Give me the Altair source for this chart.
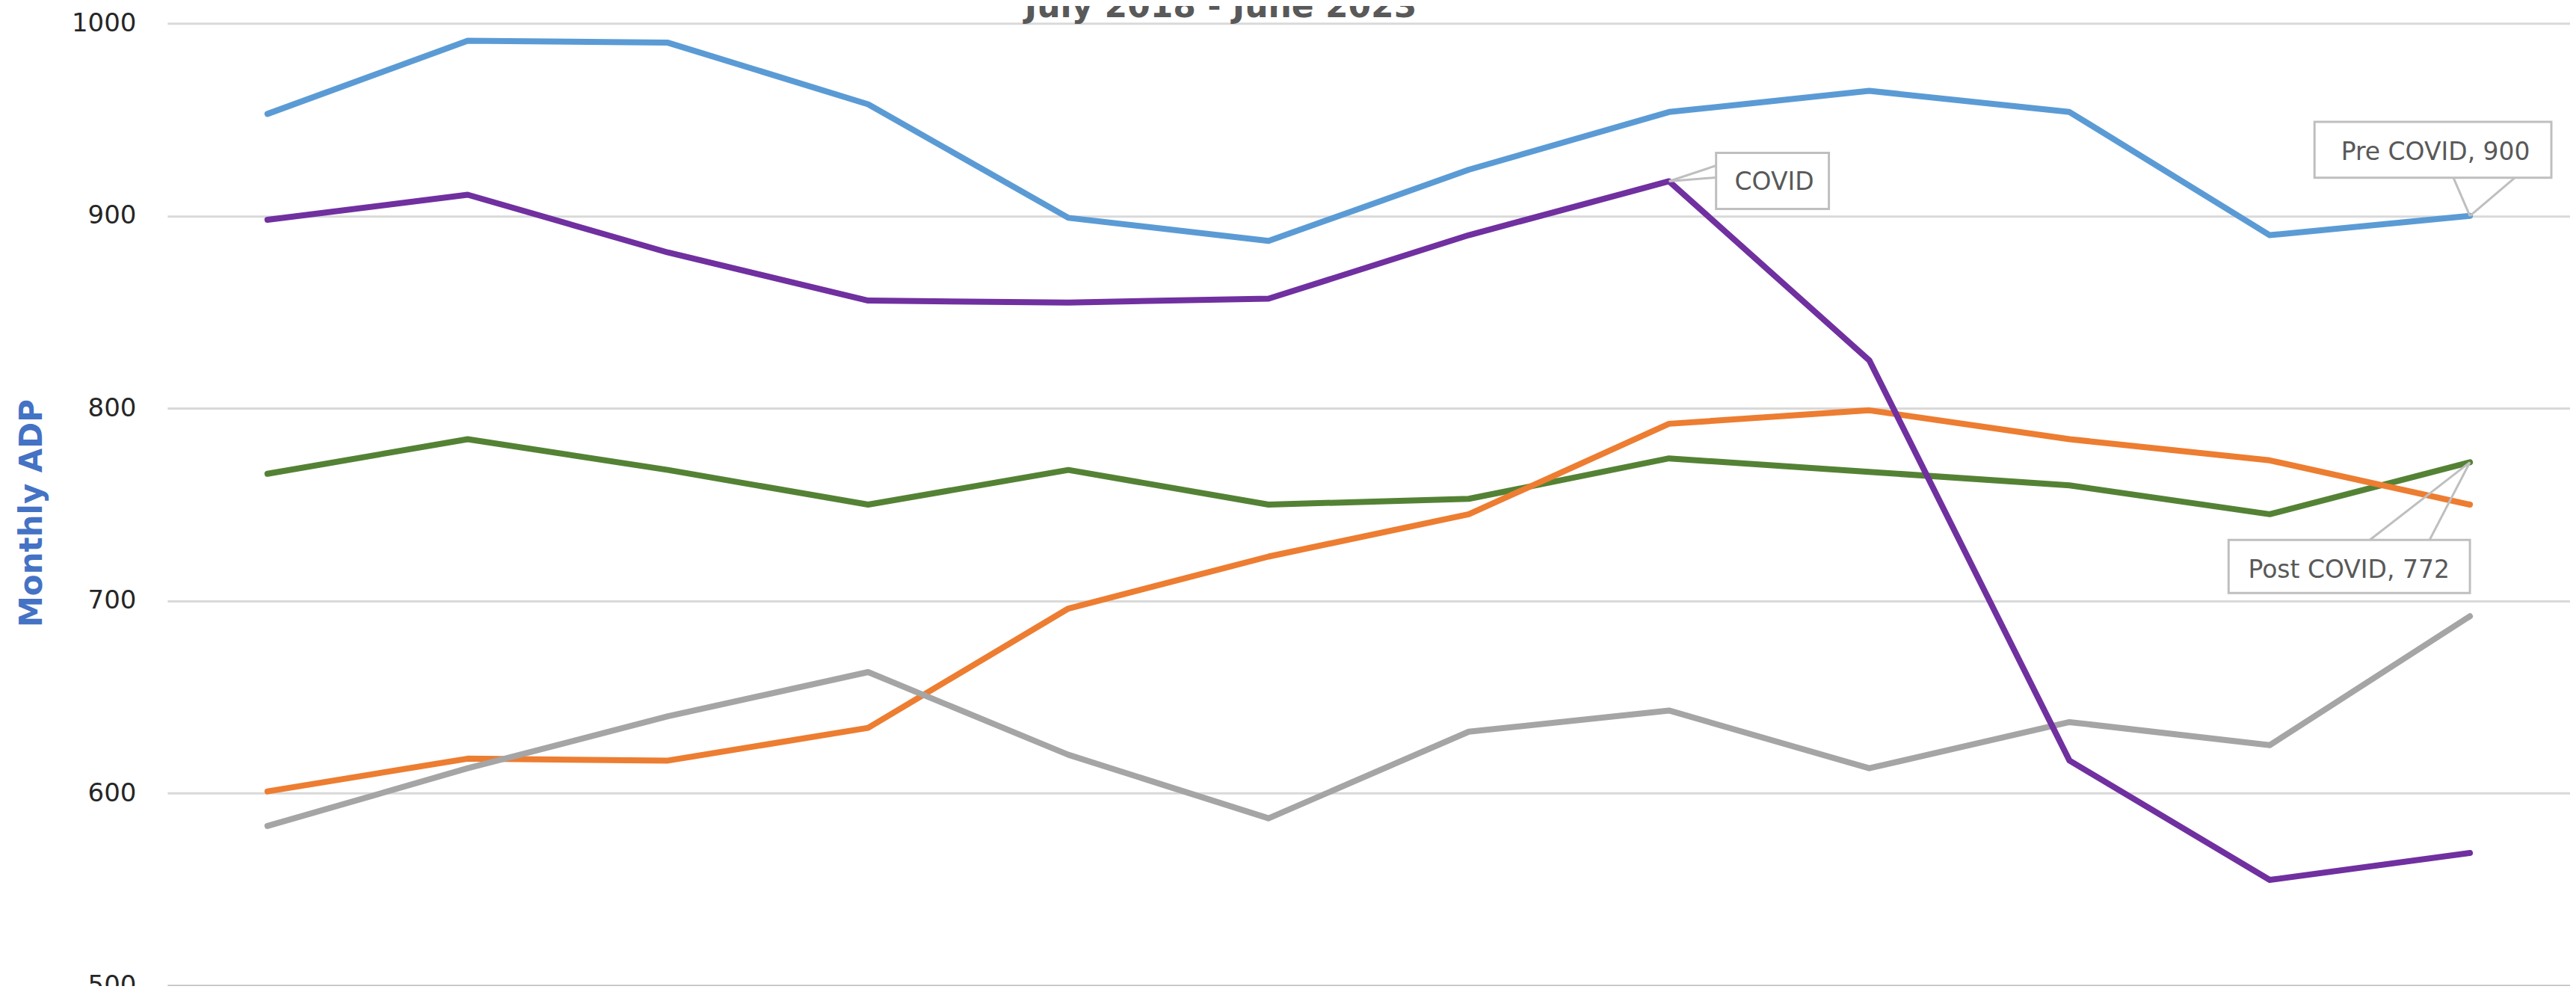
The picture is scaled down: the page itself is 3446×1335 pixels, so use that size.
import altair as alt
import pandas as pd

TITLE = "July 2018 - June 2023"
Y_TITLE = "Monthly ADP"
MONTHS = ["Jul", "Aug", "Sep", "Oct", "Nov", "Dec", "Jan", "Feb", "Mar", "Apr", "May", "Jun"]
SERIES = ["FY2019", "FY2020", "FY2021", "FY2022", "FY2023"]
COLORS = ["#5B9BD5", "#7030A0", "#ED7D31", "#A5A5A5", "#548235"]

fy2019 = [953, 991, 990, 958, 899, 887, 924, 954, 965, 954, 890, 900]
fy2020 = [898, 911, 881, 856, 855, 857, 890, 918, 825, 617, 555, 569]
fy2021 = [601, 618, 617, 634, 696, 723, 745, 792, 799, 784, 773, 750]
fy2022 = [583, 613, 640, 663, 620, 587, 632, 643, 613, 637, 625, 692]
fy2023 = [766, 784, 768, 750, 768, 750, 753, 774, 767, 760, 745, 772]

Y_TICKS = [500, 600, 700, 800, 900, 1000]

# callouts: label text, series, month, value
CALLOUT_TEXT = ["COVID", "Pre COVID, 900", "Post COVID, 772"]
CALLOUT_SERIES = ["FY2020", "FY2019", "FY2023"]
CALLOUT_MONTH = ["Feb", "Jun", "Jun"]
CALLOUT_VALUE = [918, 900, 772]

rows = []
for name, vals in zip(SERIES, [fy2019, fy2020, fy2021, fy2022, fy2023]):
    for m, v in zip(MONTHS, vals):
        rows.append({"series": name, "month": m, "value": v})
df = pd.DataFrame(rows)

W, H = 3216, 1288
FONT = "DejaVu Sans"

x_enc = alt.X(
    "month:N", sort=MONTHS,
    scale=alt.Scale(type="point", padding=0.5),
    axis=alt.Axis(title=None, labels=False, ticks=False, grid=False,
                  domain=True, domainColor="#BFBFBF", domainWidth=3),
)
y_enc = alt.Y(
    "value:Q",
    scale=alt.Scale(domain=[500, 1000], nice=False, zero=False),
    axis=alt.Axis(
        values=Y_TICKS, format="d", title=Y_TITLE, ticks=False, domain=False,
        grid=True, gridColor="#D9D9D9", gridWidth=3,
        labelFont=FONT, labelFontSize=34, labelColor="#262626",
        labelPadding=42, labelFlush=False, labelOverlap=False, labelBound=False,
        titleFont=FONT, titleFontSize=42, titleFontWeight="bold",
        titleColor="#4472C4", titleX=-181, titleY=655, titleAngle=270,
        titleAlign="center", titleBaseline="middle",
    ),
)
color_enc = alt.Color("series:N", scale=alt.Scale(domain=SERIES, range=COLORS), legend=None)

draw_order = ["FY2023", "FY2021", "FY2022", "FY2019", "FY2020"]
line_layers = []
for s in draw_order:
    line_layers.append(
        alt.Chart(df[df["series"] == s])
        .mark_line(strokeWidth=8, strokeJoin="round", strokeCap="round")
        .encode(x=x_enc, y=y_enc, color=color_enc)
    )

co = pd.DataFrame({
    "label": CALLOUT_TEXT, "series": CALLOUT_SERIES,
    "month": CALLOUT_MONTH, "value": CALLOUT_VALUE,
})

# geometry of each callout in pixels relative to its point
GEOM = {
    "COVID": dict(box=(63, 214, -38, 37), text=(141, 2), p1=(63, -21), p2=(63, -5)),
    "Pre COVID, 900": dict(box=(-208, 109, -126, -51), text=(-46, -85), p1=(-22, -51), p2=(60, -51)),
    "Post COVID, 772": dict(box=(-323, 0, 104, 175), text=(-162, 145), p1=(-134, 104), p2=(-54, 104)),
}

ann_layers = []
for lab in CALLOUT_TEXT:
    g = GEOM[lab]
    d = co[co["label"] == lab]
    base = alt.Chart(d)
    for p in ("p1", "p2"):
        ann_layers.append(
            base.mark_rule(color="#BFBFBF", strokeWidth=3,
                           x2Offset=g[p][0], y2Offset=g[p][1])
            .encode(x=x_enc, y=y_enc, x2=alt.X2("month"), y2=alt.Y2("value"))
        )
    bx0, bx1, by0, by1 = g["box"]
    ann_layers.append(
        base.mark_rect(fill="white", stroke="#BFBFBF", strokeWidth=3,
                       xOffset=bx0, x2Offset=bx1, yOffset=by0, y2Offset=by1)
        .encode(x=x_enc, y=y_enc, x2=alt.X2("month"), y2=alt.Y2("value"))
    )
    ann_layers.append(
        base.mark_text(font=FONT, fontSize=33, color="#595959", align="center",
                       baseline="middle", dx=g["text"][0], dy=g["text"][1])
        .encode(x=x_enc, y=y_enc, text="label:N")
    )

title_layer = (
    alt.Chart(pd.DataFrame({"title": [TITLE]}))
    .mark_text(font=FONT, fontSize=44, fontWeight="bold", color="#595959",
               align="center", baseline="alphabetic")
    .encode(x=alt.value(1410), y=alt.value(-8), text="title:N")
)

chart = (
    alt.layer(*line_layers, *ann_layers, title_layer)
    .properties(
        width=W, height=H,
        autosize=alt.AutoSizeParams(type="none"),
        padding={"left": 216, "top": 23, "right": 0, "bottom": 0},
        background="white",
    )
    .configure_view(stroke=None)
)

chart.save("out.html", embed_options={"renderer": "svg", "actions": False})
